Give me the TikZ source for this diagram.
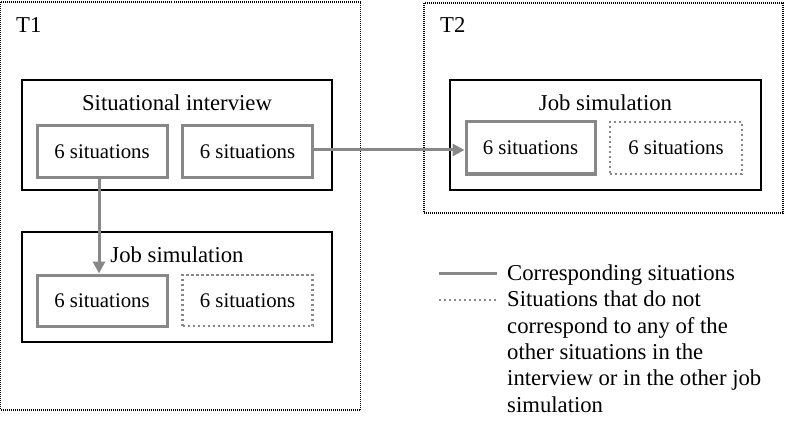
\documentclass[tikz,border=0pt]{standalone}
\usepackage{fontspec}
\setmainfont{Liberation Serif}
\usetikzlibrary{positioning, arrows.meta}
\definecolor{boxgray}{RGB}{136,136,136}
\tikzstyle{period} = [draw, dash pattern=on 1pt off 1pt, line width=1.1pt, inner sep=0]
\tikzstyle{group} = [draw, line width=1.6pt, minimum width=310pt, minimum height=110pt, inner sep=0]
\tikzstyle{match} = [draw=boxgray, line width=3pt, minimum width=130pt, minimum height=51pt, inner sep=0, font=\fontsize{20.8}{25}\selectfont]
\tikzstyle{nomatch} = [match, line width=2.6pt, dash pattern=on 2.4pt off 2.6pt]
\tikzstyle{label} = [inner sep=0]

\begin{document}
\begin{tikzpicture}[x=1pt, y=-1pt, font=\fontsize{22.7}{26.3}\selectfont,
  link/.style={draw=boxgray, line width=3pt, -{Triangle[length=12pt, width=12pt]}}]
\useasboundingbox (0,0) rectangle (786,422);
% time points
\node[period, minimum width=360pt, minimum height=408pt] (t1) at (180.5,206) {};
\node[period, minimum width=359pt, minimum height=210pt] (t2) at (603.5,108) {};
\node[label, anchor=base west] (t1lab) at (16,33) {T1};
\node[label, anchor=base west] (t2lab) at (440,33) {T2};
% T1: interview
\node[group] (iv) at (177,135) {};
\node[label, anchor=base] (ivlab) at (177,111) {Situational interview};
\node[match] (iv1) at (102,151.5) {6 situations};
\node[match] (iv2) at (247.5,151.5) {6 situations};
% T1: job simulation
\node[group] (js) at (177,287) {};
\node[label, anchor=base] (jslab) at (177,262) {Job simulation};
\node[match] (js1) at (102,300.5) {6 situations};
\node[nomatch] (js2) at (247.5,300.5) {6 situations};
% T2: job simulation
\node[group, minimum width=311pt] (jt) at (605.5,135) {};
\node[label, anchor=base] (jtlab) at (605.5,111) {Job simulation};
\node[match, minimum width=129pt, minimum height=52pt] (jt1) at (530.5,148) {6 situations};
\node[nomatch, minimum width=132pt, minimum height=52pt] (jt2) at (676,148) {6 situations};
% correspondences
\draw[link] ([xshift=-3pt]iv1.south) -- ([xshift=-3pt]js1.north);
\draw[link] ([yshift=1.5pt]iv2.east) -- ([yshift=1.5pt]iv2.east -| jt1.west);
% legend
\coordinate (solidA) at (439,273);
\coordinate (solidB) at (497,273);
\coordinate (dotA) at (439,300);
\coordinate (dotB) at (497,300);
\draw[draw=boxgray, line width=3pt] (solidA) -- (solidB);
\draw[draw=boxgray, line width=2.6pt, dash pattern=on 2.4pt off 2.6pt] (dotA) -- (dotB);
\node[label, anchor=base west] (solidtext) at (507,280) {Corresponding situations};
\node[label, anchor=north west, align=left] (dottext) at (507,291)
  {Situations that do not\\correspond to any of the\\other situations in the\\interview or in the other job\\simulation};
\end{tikzpicture}
\end{document}
